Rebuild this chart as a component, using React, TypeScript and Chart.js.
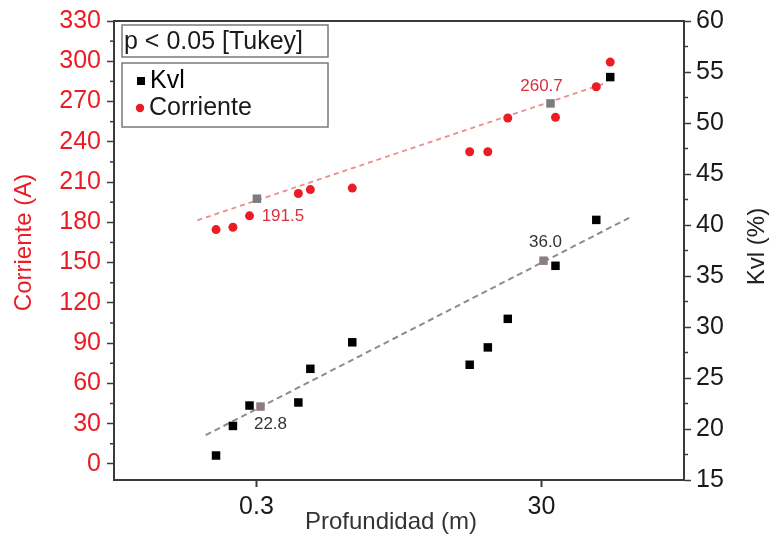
import React, { useEffect, useRef } from "react";
import { Chart, registerables } from "chart.js";

Chart.register(...registerables);

// ---- data ----
const depth = [0.156, 0.205, 0.268, 0.59, 0.716, 1.41, 9.4, 12.6, 17.4, 37.6, 72.7, 91.1];
const corriente = [174.6, 176.3, 184.8, 201.5, 204.4, 205.5, 232.6, 232.6, 257.7, 258.2, 281, 299.4];
const kvl = [17.4, 20.3, 22.3, 22.6, 25.9, 28.5, 26.3, 28.0, 30.8, 36.0, 40.5, 54.5];

const corrienteFitX = [0.1154, 82.8];
const corrienteFitY = [181.5, 283.4];
const kvlFitX = [0.132, 127.6];
const kvlFitY = [19.4, 40.8];

const corrienteMeanX = [0.302, 34.7];
const corrienteMeanY = [197.6, 268.6];
const corrienteMeanLabels = ["191.5", "260.7"];
const kvlMeanX = [0.32, 31.0];
const kvlMeanY = [22.2, 36.5];
const kvlMeanLabels = ["22.8", "36.0"];

const xTicks = [0.3, 30];
const leftTicks = [0, 30, 60, 90, 120, 150, 180, 210, 240, 270, 300, 330];
const leftMinor = [15, 45, 75, 105, 135, 165, 195, 225, 255, 285, 315];
const rightTicks = [15, 20, 25, 30, 35, 40, 45, 50, 55, 60];
const rightMinor = [17.5, 22.5, 27.5, 32.5, 37.5, 42.5, 47.5, 52.5, 57.5];

const xTitle = "Profundidad (m)";
const leftTitle = "Corriente (A)";
const rightTitle = "Kvl (%)";
const statText = "p < 0.05 [Tukey]";
const legendLabels = ["Kvl", "Corriente"];

const FONT = "'Liberation Sans', Arial, sans-serif";
const RED = "rgb(236,28,36)";
const AXIS = "#3a3a3a";

const pts = (xs: number[], ys: number[]) => xs.map((x, i) => ({ x, y: ys[i] }));

const decor = {
  id: "decor",
  afterDraw(chart: any) {
    const ctx = chart.ctx;
    const { left, right, top, bottom } = chart.chartArea;
    const sx = chart.scales.x;
    const sy = chart.scales.y;
    const sy1 = chart.scales.y1;
    ctx.save();
    // top frame line
    ctx.strokeStyle = AXIS;
    ctx.lineWidth = 2;
    ctx.beginPath();
    ctx.moveTo(left - 1, top);
    ctx.lineTo(right + 1, top);
    ctx.stroke();
    // minor ticks
    ctx.lineWidth = 1.5;
    leftMinor.forEach((v) => {
      const y = sy.getPixelForValue(v);
      ctx.beginPath();
      ctx.moveTo(left, y);
      ctx.lineTo(left - 4, y);
      ctx.stroke();
    });
    rightMinor.forEach((v) => {
      const y = sy1.getPixelForValue(v);
      ctx.beginPath();
      ctx.moveTo(right, y);
      ctx.lineTo(right + 4, y);
      ctx.stroke();
    });
    // axis titles
    ctx.font = `24px ${FONT}`;
    ctx.textAlign = "center";
    ctx.textBaseline = "middle";
    ctx.fillStyle = "#333";
    ctx.fillText(xTitle, 391, 522);
    ctx.save();
    ctx.translate(24, (top + bottom) / 2 - 8);
    ctx.rotate(-Math.PI / 2);
    ctx.fillStyle = RED;
    ctx.fillText(leftTitle, 0, 0);
    ctx.restore();
    ctx.save();
    ctx.translate(757, (top + bottom) / 2 - 4);
    ctx.rotate(-Math.PI / 2);
    ctx.fillStyle = "#222";
    ctx.fillText(rightTitle, 0, 0);
    ctx.restore();
    // mean labels
    ctx.font = `17px ${FONT}`;
    const cOff = [
      [26, 18],
      [-9, -17],
    ];
    corrienteMeanLabels.forEach((t, i) => {
      const x = sx.getPixelForValue(corrienteMeanX[i]) + cOff[i][0];
      const y = sy.getPixelForValue(corrienteMeanY[i]) + cOff[i][1];
      ctx.fillStyle = "rgb(214,50,60)";
      ctx.fillText(t, x, y);
    });
    const kOff = [
      [10, 18],
      [2, -18],
    ];
    kvlMeanLabels.forEach((t, i) => {
      const x = sx.getPixelForValue(kvlMeanX[i]) + kOff[i][0];
      const y = sy1.getPixelForValue(kvlMeanY[i]) + kOff[i][1];
      ctx.fillStyle = "#333";
      ctx.fillText(t, x, y);
    });
    // stat box
    ctx.strokeStyle = "#7a7a7a";
    ctx.lineWidth = 1.5;
    ctx.strokeRect(122, 25, 206, 32);
    ctx.strokeRect(122, 63, 206, 64);
    ctx.textAlign = "left";
    ctx.font = `25px ${FONT}`;
    ctx.fillStyle = "#1a1a1a";
    ctx.fillText(statText, 124, 42);
    // legend
    ctx.fillStyle = "#000";
    ctx.fillRect(137, 77, 8, 8);
    ctx.fillText(legendLabels[0], 150, 81);
    ctx.fillStyle = RED;
    ctx.beginPath();
    ctx.arc(140, 108, 4.2, 0, Math.PI * 2);
    ctx.fill();
    ctx.fillStyle = "#1a1a1a";
    ctx.fillText(legendLabels[1], 149, 108);
    ctx.restore();
  },
};

export default function App() {
  const ref = useRef<HTMLCanvasElement | null>(null);
  useEffect(() => {
    if (!ref.current) return;
    const chart = new Chart(ref.current, {
      type: "scatter",
      data: {
        datasets: [
          {
            label: "Kvl",
            data: pts(depth, kvl),
            xAxisID: "x",
            yAxisID: "y1",
            pointStyle: "rect",
            pointRadius: 6,
            backgroundColor: "#000",
            borderColor: "#000",
            borderWidth: 0,
            order: 1,
          },
          {
            label: "Corriente",
            data: pts(depth, corriente),
            xAxisID: "x",
            yAxisID: "y",
            pointStyle: "circle",
            pointRadius: 4.5,
            backgroundColor: RED,
            borderColor: RED,
            borderWidth: 0,
            order: 1,
          },
          {
            label: "Corriente mean",
            data: pts(corrienteMeanX, corrienteMeanY),
            yAxisID: "y",
            pointStyle: "rect",
            pointRadius: 6,
            backgroundColor: "#7c7c80",
            borderWidth: 0,
            order: 2,
          },
          {
            label: "Kvl mean",
            data: pts(kvlMeanX, kvlMeanY),
            yAxisID: "y1",
            pointStyle: "rect",
            pointRadius: 6,
            backgroundColor: "#8d7c84",
            borderWidth: 0,
            order: 2,
          },
          {
            type: "line",
            label: "Corriente fit",
            data: pts(corrienteFitX, corrienteFitY),
            yAxisID: "y",
            borderColor: "rgb(238,140,140)",
            borderWidth: 1.8,
            borderDash: [5, 4],
            pointRadius: 0,
            fill: false,
            order: 3,
          } as any,
          {
            type: "line",
            label: "Kvl fit",
            data: pts(kvlFitX, kvlFitY),
            yAxisID: "y1",
            borderColor: "rgb(140,140,140)",
            borderWidth: 2,
            borderDash: [6, 4],
            pointRadius: 0,
            fill: false,
            order: 3,
          } as any,
        ],
      },
      options: {
        animation: false,
        responsive: false,
        devicePixelRatio: 1,
        layout: { padding: { top: 21, left: 0, right: 0, bottom: 0 } },
        plugins: { legend: { display: false }, tooltip: { enabled: false } },
        scales: {
          x: {
            type: "logarithmic",
            position: "bottom",
            min: 0.03,
            max: 300,
            afterBuildTicks: (s: any) => {
              s.ticks = xTicks.map((v) => ({ value: v }));
            },
            afterFit: (s: any) => {
              s.height = 60;
            },
            ticks: {
              callback: (v: any) => String(v),
              font: { family: FONT, size: 25 },
              color: "#1a1a1a",
              padding: 5,
              maxRotation: 0,
              autoSkip: false,
            },
            grid: { drawOnChartArea: false, tickLength: 7, tickColor: AXIS, tickWidth: 2 },
            border: { color: AXIS, width: 2 },
          },
          y: {
            position: "left",
            min: -12,
            max: 330,
            afterBuildTicks: (s: any) => {
              s.ticks = leftTicks.map((v) => ({ value: v }));
            },
            afterFit: (s: any) => {
              s.width = 114;
            },
            ticks: {
              font: { family: FONT, size: 25 },
              color: RED,
              padding: 6,
              autoSkip: false,
            },
            grid: { drawOnChartArea: false, tickLength: 7, tickColor: AXIS, tickWidth: 1.5 },
            border: { color: AXIS, width: 2 },
          },
          y1: {
            position: "right",
            min: 15,
            max: 60,
            afterBuildTicks: (s: any) => {
              s.ticks = rightTicks.map((v) => ({ value: v }));
            },
            afterFit: (s: any) => {
              s.width = 87;
            },
            ticks: {
              font: { family: FONT, size: 25 },
              color: "#1a1a1a",
              padding: 5,
              autoSkip: false,
            },
            grid: { drawOnChartArea: false, tickLength: 7, tickColor: AXIS, tickWidth: 1.5 },
            border: { color: AXIS, width: 2 },
          },
        },
      },
      plugins: [decor],
    } as any);
    return () => chart.destroy();
  }, []);
  return (
    <div style={{ position: "fixed", left: 0, top: 0, width: 771, height: 540, background: "#fff" }}>
      <canvas ref={ref} width={771} height={540} style={{ width: 771, height: 540, display: "block" }} />
    </div>
  );
}
